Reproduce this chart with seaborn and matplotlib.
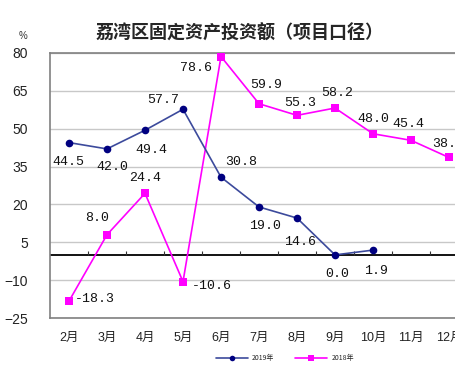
import pandas as pd
import numpy as np
import matplotlib
matplotlib.use("Agg")
import matplotlib.pyplot as plt
import seaborn as sns
from matplotlib.lines import Line2D

# 数据
months = ["2月", "3月", "4月", "5月", "6月", "7月", "8月", "9月", "10月", "11月", "12月"]
growth_2019 = [44.5, 42.0, 49.4, 57.7, 30.8, 19.0, 14.6, 0.0, 1.9]
growth_2018 = [-18.3, 8.0, 24.4, -10.6, 78.6, 59.9, 55.3, 58.2, 48.0, 45.4, 38.6]
series_names = ["2019年", "2018年"]
y_ticks = [80, 65, 50, 35, 20, 5, -10, -25]

# 数据标签相对位置（像素）
offsets_2019 = [(-1, -19), (5, -18), (6, -20), (-20, 9), (20, 15), (6, -19),
                (3, -24), (2, -19), (3, -21)]
offsets_2018 = [(26, 2), (-10, 17), (0, 15), (29, -4), (-25, -11), (7, 19),
                (3, 12), (2, 15), (0, 15), (-3, 16), (-1, 13)]

color_2019 = "#3c4a9c"
marker_2019 = "#000080"
color_2018 = "#ff00ff"

sns.set_style("white")
plt.rcParams["font.family"] = ["Liberation Sans", "Noto Sans CJK SC"]

df = pd.concat([
    pd.DataFrame({"month": months, "value": growth_2018, "year": series_names[1]}),
    pd.DataFrame({"month": months[:len(growth_2019)], "value": growth_2019,
                  "year": series_names[0]}),
])

fig = plt.figure(figsize=(4.55, 3.69), dpi=100)
ax = fig.add_axes([50 / 455, 51 / 369, 418 / 455, 265 / 369])

sns.lineplot(data=df[df["year"] == series_names[1]], x="month", y="value",
             color=color_2018, lw=1.2, marker="s", markersize=6,
             markeredgewidth=0, ax=ax, legend=False, zorder=3)
sns.lineplot(data=df[df["year"] == series_names[0]], x="month", y="value",
             color=color_2019, lw=1.2, marker="o", markersize=5.5,
             markerfacecolor=marker_2019, markeredgewidth=0, ax=ax,
             legend=False, zorder=4)

# 数据标签
for name, vals, offs in [(series_names[0], growth_2019, offsets_2019),
                         (series_names[1], growth_2018, offsets_2018)]:
    for i, (v, (dx, dy)) in enumerate(zip(vals, offs)):
        ax.annotate(f"{v:.1f}", (i, v), xytext=(dx, dy), textcoords="offset pixels",
                    ha="center", va="center", fontsize=9.5,
                    family=["Liberation Mono", "DejaVu Sans Mono"], color="#111111",
                    zorder=5, annotation_clip=False)

ax.set_xlim(-0.5, len(months) - 0.5)
ax.set_ylim(min(y_ticks), max(y_ticks))
ax.set_yticks(y_ticks)
ax.set_xticks(range(len(months)))
ax.set_xticklabels(months)
ax.tick_params(axis="both", length=0, labelsize=9.5, colors="#222222")
ax.tick_params(axis="y", pad=16, labelsize=10)
ax.tick_params(axis="x", pad=10, labelsize=9)
ax.set_xlabel("")
ax.set_ylabel("")

ax.grid(axis="y", color="#c8c8c8", lw=1)
ax.axhline(0, color="black", lw=1.3, zorder=2)
# 零线上的分类刻度
ax.vlines(np.arange(len(months) - 1) + 0.5, 0, 1.6, color="#333333", lw=0.8, zorder=2)

for side in ["left", "top", "bottom", "right"]:
    ax.spines[side].set_color("#808080")
    ax.spines[side].set_linewidth(1.2)

fig.text(240 / 455, 1 - 33 / 369, "荔湾区固定资产投资额（项目口径）",
         ha="center", va="center", fontsize=13, fontweight="bold",
         family=["Noto Sans CJK SC", "DejaVu Sans"])
fig.text(23 / 455, 1 - 36 / 369, "%", ha="center", va="center", fontsize=7,
         color="#333333")

handles = [
    Line2D([], [], color=color_2019, marker="o", markersize=4,
           markerfacecolor=marker_2019, markeredgewidth=0, lw=1.2),
    Line2D([], [], color=color_2018, marker="s", markersize=4,
           markeredgewidth=0, lw=1.2),
]
fig.legend(handles, series_names, loc="center", bbox_to_anchor=(285 / 455, 1 - 358 / 369),
           ncol=2, frameon=False, fontsize=5, handlelength=4.6, columnspacing=3,
           handletextpad=0.6, prop={"family": ["Noto Sans CJK SC"], "size": 5})

plt.savefig("out.png", dpi=100)
